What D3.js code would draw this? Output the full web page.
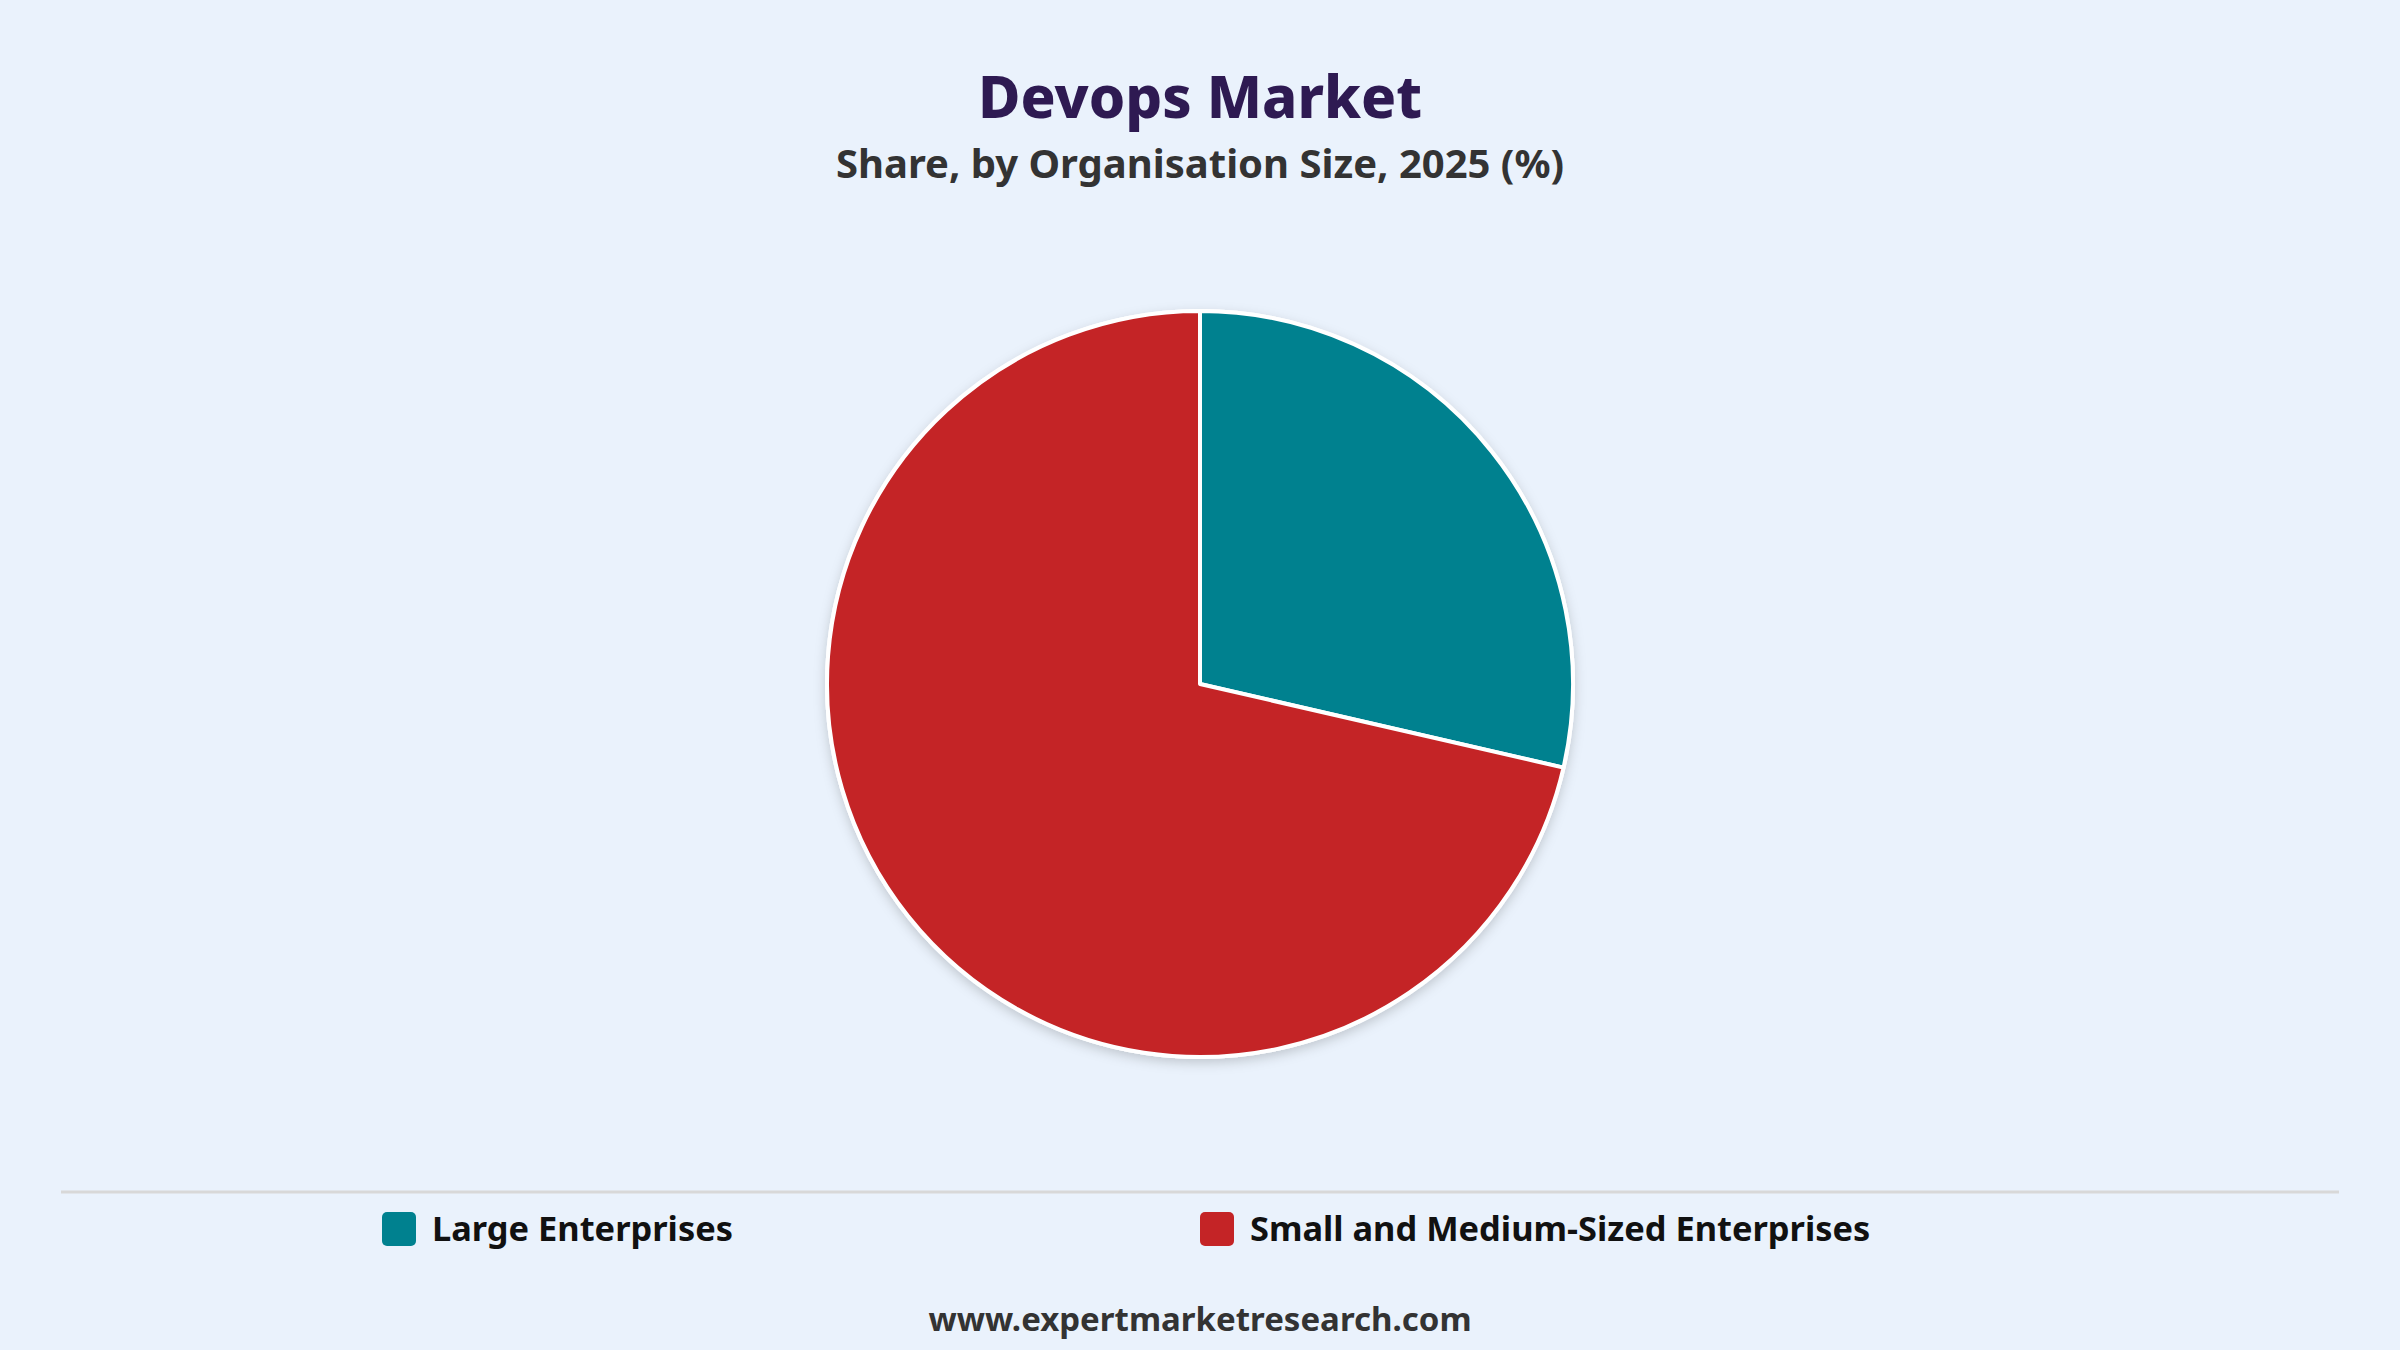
<!DOCTYPE html>
<html><head><meta charset="utf-8">
<script src="https://cdn.jsdelivr.net/npm/d3@7/dist/d3.min.js"></script>
<style>body{margin:0;background:#eaf2fc;}svg{display:block}</style>
</head><body>
<script>
const categories = ["Large Enterprises", "Small and Medium-Sized Enterprises"];
const values = [28.6, 71.4];
const colors = ["#00818f", "#c42426"];
const W = 2400, H = 1350, font = "'Noto Sans', 'Open Sans', sans-serif";
const svg = d3.select("body").append("svg").attr("width", W).attr("height", H);
svg.append("rect").attr("width", W).attr("height", H).attr("fill", "#eaf2fc");
const defs = svg.append("defs");
const f = defs.append("filter").attr("id","sh").attr("x","-20%").attr("y","-20%").attr("width","140%").attr("height","140%");
f.append("feDropShadow").attr("dx",0).attr("dy",4).attr("stdDeviation",6).attr("flood-color","#000").attr("flood-opacity",0.18);
svg.append("text").attr("x", W/2).attr("y", 118).attr("text-anchor","middle").attr("font-family",font)
  .attr("font-weight",800).attr("font-size",58).attr("fill","#2e1a52").text("Devops Market");
svg.append("text").attr("x", W/2).attr("y", 178).attr("text-anchor","middle").attr("font-family",font)
  .attr("font-weight",700).attr("font-size",40).attr("fill","#333").text("Share, by Organisation Size, 2025 (%)");
const pie = d3.pie().sort(null).value(d=>d)(values);
const arc = d3.arc().innerRadius(0).outerRadius(373);
const g = svg.append("g").attr("transform","translate(1200,684)");
g.append("circle").attr("r",375).attr("fill","#fff").attr("filter","url(#sh)");
g.selectAll("path").data(pie).join("path").attr("d",arc).attr("fill",(d,i)=>colors[i])
  .attr("stroke","#fff").attr("stroke-width",4).attr("stroke-linejoin","round");
svg.append("line").attr("x1",61).attr("x2",2339).attr("y1",1192).attr("y2",1192).attr("stroke","#d8d8d8").attr("stroke-width",3);
const lx = [382, 1200];
categories.forEach((c,i)=>{
  svg.append("rect").attr("x",lx[i]).attr("y",1212).attr("width",34).attr("height",34).attr("rx",5).attr("fill",colors[i]);
  svg.append("text").attr("x",lx[i]+50).attr("y",1241).attr("font-family",font).attr("font-weight",700)
    .attr("font-size",34.4).attr("fill","#111").text(c);
});
svg.append("text").attr("x", W/2).attr("y", 1331).attr("text-anchor","middle").attr("font-family",font)
  .attr("font-weight",700).attr("font-size",33).attr("fill","#333").text("www.expertmarketresearch.com");
</script>
</body></html>
